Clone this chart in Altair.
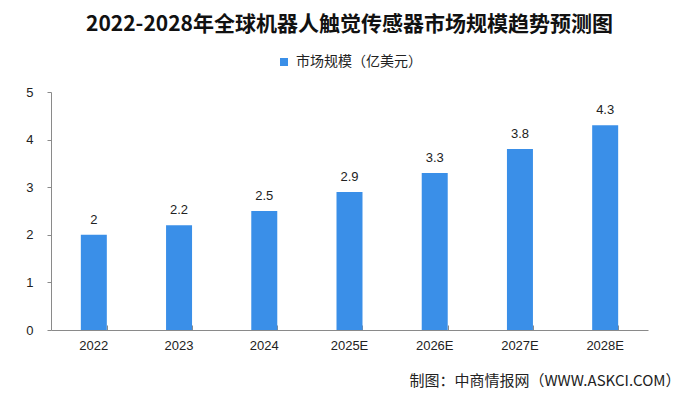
import altair as alt
import pandas as pd

years = ["2022", "2023", "2024", "2025E", "2026E", "2027E", "2028E"]
values = [2, 2.2, 2.5, 2.9, 3.3, 3.8, 4.3]
labels = ["2", "2.2", "2.5", "2.9", "3.3", "3.8", "4.3"]
series_name = "市场规模（亿美元）"
title_text = "2022-2028年全球机器人触觉传感器市场规模趋势预测图"
source_text = "制图：中商情报网（WWW.ASKCI.COM）"

df = pd.DataFrame({"year": years, "value": values, "label": labels, "series": [series_name] * len(years)})

CJK = "Noto Sans CJK SC"
BAR = "#3a8fe8"

x_scale = alt.Scale(paddingInner=0.695, paddingOuter=0.35)

x_main = alt.X(
    "year:N", sort=years, scale=x_scale,
    axis=alt.Axis(
        title=source_text, titleX=629, titleY=50, titleAlign="right", titleBaseline="middle",
        titleFont=CJK, titleFontSize=15, titleFontWeight="normal", titleColor="#222",
        labelAngle=0, labelFont="Liberation Sans", labelFontSize=13, labelColor="#222", labelPadding=9,
        domainColor="#8a8a8a", ticks=False, orient="bottom",
    ),
)

def y_enc():
    return alt.Y(
        "value:Q", scale=alt.Scale(domain=[0, 5]),
        axis=alt.Axis(
            title=None, values=[0, 1, 2, 3, 4, 5], grid=False, domainColor="#8a8a8a",
            tickColor="#8a8a8a", tickSize=4, labelFont="Liberation Sans", labelFontSize=13,
            labelColor="#222", labelPadding=14,
        ),
    )

bars = alt.Chart(df).mark_bar(color=BAR).encode(
    x=x_main,
    y=y_enc(),
    color=alt.Color(
        "series:N", scale=alt.Scale(range=[BAR]),
        legend=alt.Legend(
            title=None, orient="none", legendX=226, legendY=-37, symbolType="square",
            symbolSize=64, symbolStrokeWidth=0, labelFont=CJK, labelFontSize=14, labelColor="#222",
            labelOffset=5,
        ),
    ),
)

text = alt.Chart(df).mark_text(
    dy=-15, baseline="middle", font="Liberation Sans", fontSize=13, color="#222"
).encode(
    x=alt.X("year:N", sort=years, axis=None),
    y=y_enc(),
    text="label:N",
)

ticks_layer = alt.Chart(df).mark_bar(opacity=0).encode(
    x=alt.X(
        "year:N", sort=years,
        axis=alt.Axis(
            title=None, labels=False, domain=False, ticks=True, tickSize=5, tickColor="#8a8a8a",
            tickBand="extent", offset=-5, orient="bottom",
        ),
    ),
    y=y_enc(),
)

chart = alt.layer(bars, text, ticks_layer).resolve_axis(x="independent").properties(
    width=597,
    height=238,
    autosize=alt.AutoSizeParams(type="none"),
    padding={"left": 43, "top": 84, "right": 44, "bottom": 60},
    title=alt.TitleParams(
        text=title_text, font=CJK, fontSize=21, fontWeight="bold", color="#111",
        anchor="middle", frame="group", offset=20,
    ),
).configure(background="white").configure_view(stroke="transparent", strokeWidth=0)

chart.save("out.html", embed_options={"renderer": "svg", "actions": False})
